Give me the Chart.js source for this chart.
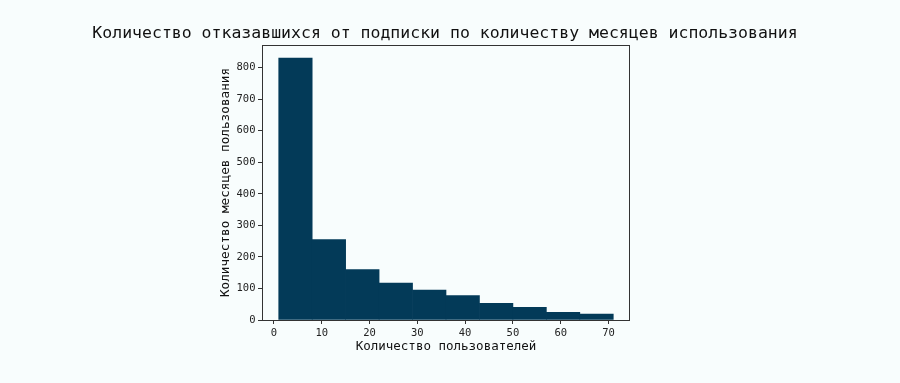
<!DOCTYPE html>
<html>
<head>
<meta charset="utf-8">
<script src="https://cdn.jsdelivr.net/npm/chart.js@4.4.1/dist/chart.umd.min.js"></script>
<style>
  html, body { margin: 0; padding: 0; background: #f8fdfd; }
  #wrap { width: 900px; height: 383px; }
</style>
</head>
<body>
<div id="wrap"><canvas id="c" width="900" height="383"></canvas></div>
<script>
// ---- data ----
const chartTitle = 'Количество отказавшихся от подписки по количеству месяцев использования';
const xLabel = 'Количество пользователей';
const yLabel = 'Количество месяцев пользования';
const binEdges = [1, 8, 15, 22, 29, 36, 43, 50, 57, 64, 71];
const counts = [830, 255, 160, 117, 95, 77, 53, 40, 24, 19];
const xTickValues = [0, 10, 20, 30, 40, 50, 60, 70];
const yTickValues = [0, 100, 200, 300, 400, 500, 600, 700, 800];

const barData = counts.map((c, i) => ({ x: (binEdges[i] + binEdges[i + 1]) / 2, y: c }));

const MONO = "'DejaVu Sans Mono', monospace";
const INK = '#222';

const framePlugin = {
  id: 'frame',
  afterDatasetsDraw(chart) {
    const a = chart.chartArea, ctx = chart.ctx;
    ctx.save();
    ctx.strokeStyle = '#333';
    ctx.lineWidth = 1;
    ctx.strokeRect(Math.round(a.left) + 0.5, Math.round(a.top) + 0.5,
                   Math.round(a.right - a.left) - 1, Math.round(a.bottom - a.top));
    ctx.restore();
  }
};

new Chart(document.getElementById('c'), {
  type: 'bar',
  data: {
    datasets: [{
      data: barData,
      backgroundColor: '#033a58',
      borderWidth: 0,
      barPercentage: 1,
      categoryPercentage: 1,
      grouped: false
    }]
  },
  options: {
    responsive: false,
    animation: false,
    devicePixelRatio: 1,
    layout: { padding: { left: 0, right: 10, top: 0, bottom: 0 } },
    plugins: {
      legend: { display: false },
      tooltip: { enabled: false },
      title: {
        display: true,
        text: chartTitle,
        fullSize: true,
        color: '#111',
        font: { family: MONO, size: 16.5, weight: 'normal', lineHeight: 1.2 },
        padding: { top: 23.5, bottom: 1.7 }
      }
    },
    scales: {
      x: {
        type: 'linear',
        min: -2.5,
        max: 74.5,
        offset: false,
        afterBuildTicks: s => { s.ticks = xTickValues.map(v => ({ value: v })); },
        afterFit: s => { s.height = 63; },
        grid: { display: true, offset: false, drawOnChartArea: false, drawTicks: true, tickLength: 4, color: '#333' },
        border: { display: false },
        ticks: { color: INK, font: { family: MONO, size: 10.5 }, padding: 3, maxRotation: 0 },
        title: {
          display: true, text: xLabel, color: '#111',
          font: { family: MONO, size: 12.5, lineHeight: 1.2 },
          padding: { top: 0, bottom: 28.5 }
        }
      },
      y: {
        type: 'linear',
        position: 'left',
        min: 0,
        max: 871.5,
        afterBuildTicks: s => { s.ticks = yTickValues.map(v => ({ value: v })); },
        afterFit: s => { s.width = 262; },
        grid: { display: true, drawOnChartArea: false, drawTicks: true, tickLength: 4, color: '#333' },
        border: { display: false },
        ticks: { color: INK, font: { family: MONO, size: 10.5 }, padding: 2.5 },
        title: {
          display: true, text: yLabel, color: '#111',
          font: { family: MONO, size: 12.7, lineHeight: 1.2 },
          padding: { top: 218.5, bottom: 0 }
        }
      },
      yRightSpace: {
        type: 'linear',
        axis: 'y',
        position: 'right',
        display: true,
        min: 0,
        max: 1,
        afterFit: s => { s.width = 260; },
        grid: { display: false },
        border: { display: false },
        ticks: { display: false }
      }
    }
  },
  plugins: [framePlugin]
});
</script>
</body>
</html>
